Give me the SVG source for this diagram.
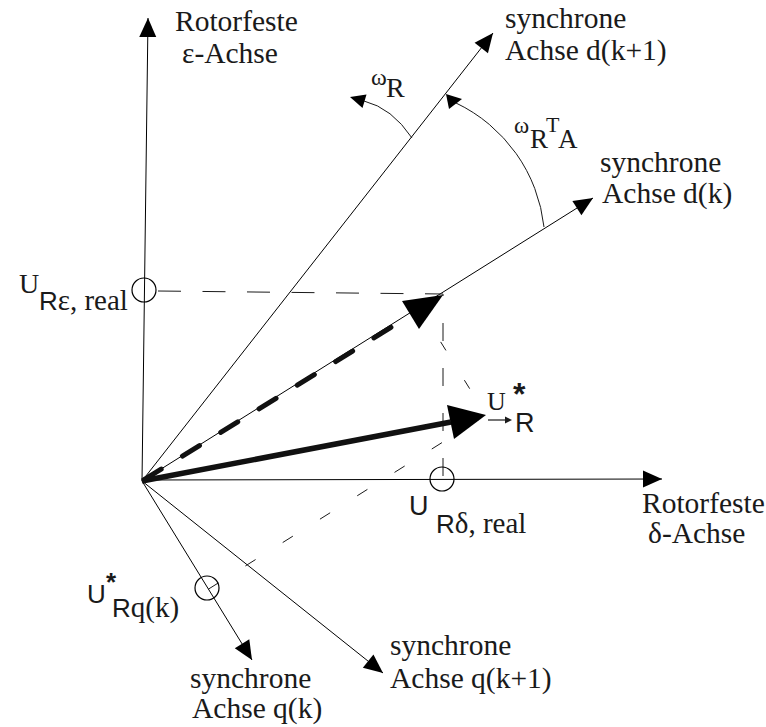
<svg xmlns="http://www.w3.org/2000/svg" width="766" height="727" viewBox="0 0 766 727">
<style>
.ax{stroke:#000;stroke-width:1;fill:none}
.thin{stroke:#1a1a1a;stroke-width:1;fill:none}
.circ{stroke:#000;stroke-width:1.2;fill:none}
.serif{font-family:"Liberation Serif","Times New Roman",serif;fill:#1a1a1a}
.sans{font-family:"Liberation Sans",Arial,sans-serif;fill:#1a1a1a}
.lbl{font-size:29.5px}
.head{fill:#000}
</style>
<defs>
<marker id="ah" viewBox="-20 -10 21 20" markerWidth="21" markerHeight="20" refX="0" refY="0" orient="auto" markerUnits="userSpaceOnUse">
<path d="M0,0 L-19,-8.5 L-19,8.5 Z" fill="#000"/>
</marker>
</defs>
<rect width="766" height="727" fill="#fff"/>

<g id="connectors">
<line id="eps-axis" class="ax" x1="142" y1="481" x2="148" y2="18" marker-end="url(#ah)"/>
<line id="delta-axis" class="ax" x1="142" y1="480" x2="662" y2="479" marker-end="url(#ah)"/>
<line id="dk1-axis" class="ax" x1="142" y1="481" x2="493" y2="33" marker-end="url(#ah)"/>
<line id="dk-axis" class="ax" x1="142" y1="481" x2="593" y2="198" marker-end="url(#ah)"/>
<line id="qk-axis" class="ax" x1="142" y1="481" x2="252" y2="660" marker-end="url(#ah)"/>
<line id="qk1-axis" class="ax" x1="142" y1="481" x2="383" y2="673" marker-end="url(#ah)"/>

<line class="thin" x1="158" y1="291" x2="443" y2="294" stroke-dasharray="23 21.5"/>
<line class="thin" x1="443" y1="294" x2="443" y2="479" stroke-dasharray="18 27" stroke-dashoffset="16"/>
<line class="thin" x1="486" y1="415" x2="419" y2="307" stroke-dasharray="10 35" stroke-dashoffset="14"/>
<line class="thin" x1="486" y1="415" x2="208" y2="589.4" stroke-dasharray="12 32" stroke-dashoffset="36"/>

<path class="thin" d="M412,138 Q392,108 364,101"/>
<polygon class="head" points="350,97 366.5,94.5 362.5,108"/>
<path class="thin" d="M544,227 A156,156 0 0 0 456,103"/>
<polygon class="head" points="446,94 449,109 462,99"/>
</g>

<g id="vector-real">
<line x1="142" y1="481" x2="411" y2="315" stroke="#111" stroke-width="5" stroke-linecap="round" stroke-dasharray="20 25" stroke-dashoffset="42.5"/>
<polygon class="head" points="443,295 419,329 402,301"/>
</g>

<g id="vector-ref">
<line x1="142" y1="481" x2="451" y2="422" stroke="#111" stroke-width="5.5"/>
<polygon class="head" points="486,415 454,439 447,405"/>
</g>

<g id="marks">
<circle class="circ" cx="144" cy="290" r="12"/>
<circle class="circ" cx="442" cy="479" r="12"/>
<circle class="circ" cx="207" cy="588" r="12"/>
</g>

<g id="label-eps">
<text class="serif lbl" x="175" y="31">Rotorfeste</text>
<text class="serif lbl" x="182" y="63">ε-Achse</text>
</g>
<g id="label-dk1">
<text class="serif lbl" x="505" y="28">synchrone</text>
<text class="serif lbl" x="505" y="60">Achse d(k+1)</text>
</g>
<g id="label-dk">
<text class="serif lbl" x="600" y="172">synchrone</text>
<text class="serif lbl" x="602" y="203">Achse d(k)</text>
</g>
<g id="label-delta">
<text class="serif lbl" x="642" y="513">Rotorfeste</text>
<text class="serif lbl" x="648" y="543">δ-Achse</text>
</g>
<g id="label-qk">
<text class="serif lbl" x="190" y="688">synchrone</text>
<text class="serif lbl" x="192" y="718">Achse q(k)</text>
</g>
<g id="label-qk1">
<text class="serif lbl" x="390" y="655">synchrone</text>
<text class="serif lbl" x="390" y="688">Achse q(k+1)</text>
</g>
<g id="label-omegaR">
<text class="serif" x="371" y="85" font-size="24">ω</text>
<text class="serif" x="386" y="97" font-size="28">R</text>
</g>
<g id="label-omegaRTA">
<text class="serif" x="514" y="133" font-size="23">ω</text>
<text class="serif" x="530" y="148" font-size="27">R</text>
<text class="serif" x="546" y="132" font-size="22">T</text>
<text class="serif" x="558" y="148" font-size="27">A</text>
</g>
<g id="label-Ueps">
<text class="serif" x="19" y="293" font-size="28">U</text>
<text x="39" y="310"><tspan class="sans" font-size="26">R</tspan><tspan class="serif" font-size="29">ε, real</tspan></text>
</g>
<g id="label-Udelta">
<text class="sans" x="409" y="515" font-size="27">U</text>
<text x="436" y="533"><tspan class="sans" font-size="26">R</tspan><tspan class="serif" font-size="29">δ, real</tspan></text>
</g>
<g id="label-Ustar">
<text class="serif" x="487" y="410" font-size="26">U</text>
<line x1="488" y1="420" x2="506" y2="420" stroke="#1a1a1a" stroke-width="1.2"/>
<polygon points="512,420 505,416.5 505,423.5" fill="#1a1a1a"/>
<text class="sans" x="513" y="405" font-size="32" font-weight="bold">*</text>
<text class="sans" x="515" y="432" font-size="27">R</text>
</g>
<g id="label-Uq">
<text class="sans" x="87" y="603" font-size="26">U</text>
<text class="sans" x="106" y="591" font-size="26" font-weight="bold">*</text>
<text x="112" y="617"><tspan class="sans" font-size="26">R</tspan><tspan class="serif" font-size="29">q(k)</tspan></text>
</g>
</svg>
